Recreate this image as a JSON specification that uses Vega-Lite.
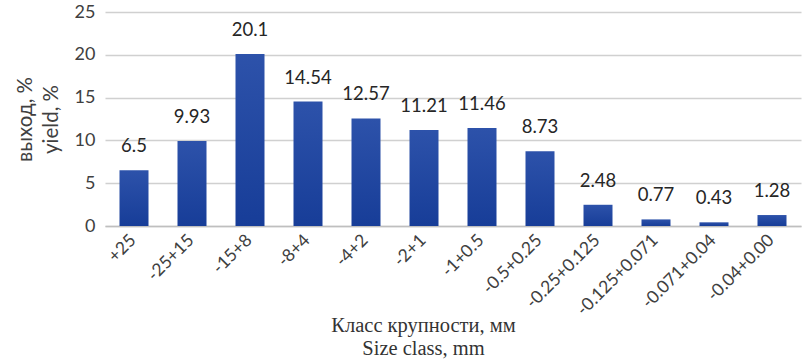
{
  "$schema": "https://vega.github.io/schema/vega-lite/v6.json",
  "autosize": "none",
  "width": 696,
  "height": 214,
  "padding": {"left": 105, "top": 12, "right": 6, "bottom": 136},
  "background": "white",
  "config": {"view": {"stroke": null}},
  "data": {"values": [
    {"cls": "+25", "yield": 6.5, "lbl": "6.5"},
    {"cls": "-25+15", "yield": 9.93, "lbl": "9.93"},
    {"cls": "-15+8", "yield": 20.1, "lbl": "20.1"},
    {"cls": "-8+4", "yield": 14.54, "lbl": "14.54"},
    {"cls": "-4+2", "yield": 12.57, "lbl": "12.57"},
    {"cls": "-2+1", "yield": 11.21, "lbl": "11.21"},
    {"cls": "-1+0.5", "yield": 11.46, "lbl": "11.46"},
    {"cls": "-0.5+0.25", "yield": 8.73, "lbl": "8.73"},
    {"cls": "-0.25+0.125", "yield": 2.48, "lbl": "2.48"},
    {"cls": "-0.125+0.071", "yield": 0.77, "lbl": "0.77"},
    {"cls": "-0.071+0.04", "yield": 0.43, "lbl": "0.43"},
    {"cls": "-0.04+0.00", "yield": 1.28, "lbl": "1.28"}
  ]},
  "encoding": {
    "x": {"field": "cls", "type": "nominal", "sort": null,
      "scale": {"paddingInner": 0.5, "paddingOuter": 0.25},
      "axis": {"title": ["Класс крупности, мм", "Size class, mm"],
        "titleFont": "Liberation Serif", "titleFontSize": 20.5, "titleFontWeight": "normal",
        "titleColor": "#333333", "titleLineHeight": 23, "titleBaseline": "top", "titleY": 89,
        "titleX": 318, "titleAlign": "center", "titleAnchor": null,
        "labelAngle": -45, "labelFont": "Lato", "labelFontSize": 17.5, "labelColor": "#404040",
        "labelPadding": 5, "labelOffset": -7, "ticks": false, "domainColor": "#bfbfbf", "domainWidth": 1.5}},
    "y": {"field": "yield", "type": "quantitative",
      "scale": {"domain": [0, 25]},
      "axis": {"title": ["выход, %", "yield, %"], "values": [0, 5, 10, 15, 20, 25],
        "titleFont": "Lato", "titleFontSize": 20.5, "titleFontWeight": "normal", "titleColor": "#404040",
        "titleLineHeight": 26, "titleAngle": -90, "titleBaseline": "top", "titleX": -90, "titleY": 107, "titleAlign": "center",
        "labelFont": "Lato", "labelFontSize": 18, "labelColor": "#404040", "labelPadding": 10,
        "domain": false, "ticks": false, "gridColor": "#d0d0d0", "gridWidth": 1.5}}
  },
  "layer": [
    {"mark": {"type": "bar", "color": {"gradient": "linear", "x1": 0, "y1": 0, "x2": 0, "y2": 1,
      "stops": [{"offset": 0, "color": "#2d52aa"}, {"offset": 1, "color": "#173d98"}]}}},
    {"mark": {"type": "text", "baseline": "bottom", "dy": -14, "font": "Lato", "fontSize": 18.5, "color": "#262626"},
      "encoding": {"text": {"field": "lbl"}}}
  ]
}
